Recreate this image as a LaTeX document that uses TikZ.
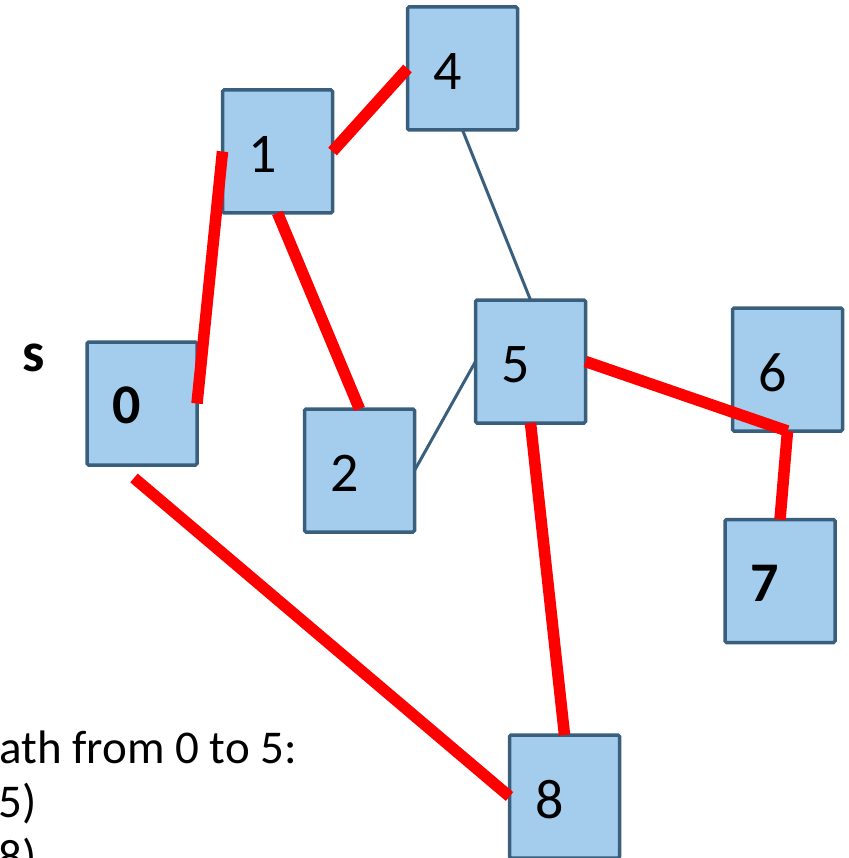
\documentclass[tikz,border=0pt]{standalone}
\usepackage{fontspec}
\setmainfont{Carlito}
\definecolor{boxfill}{RGB}{164,205,237}
\definecolor{boxline}{RGB}{58,95,125}
\definecolor{pathred}{RGB}{255,0,0}
\begin{document}
\begin{tikzpicture}[x=1pt,y=-1pt,
  vbox/.style={draw=boxline,fill=boxfill,line width=3.5pt,rounded corners=1.5pt,
    minimum width=110pt,minimum height=123pt,inner sep=0pt,outer sep=0pt},
  num/.style={label={[font=\fontsize{56}{60}\selectfont,xshift=-15pt,yshift=-3pt,inner sep=0pt]center:#1}},
  bnum/.style={label={[font=\fontsize{56}{60}\selectfont\bfseries,xshift=-15pt,yshift=-2pt,inner sep=0pt]center:#1}},
  redge/.style={draw=pathred,line width=11.5pt},
  tedge/.style={draw=boxline,line width=3pt},
  txt/.style={font=\fontsize{47}{53}\selectfont,inner sep=0pt,anchor=base west}]
\useasboundingbox (0,0) rectangle (848,858);
\clip (0,0) rectangle (848,858);
\node[vbox,bnum=0] (n0) at (142,403.5) {};
\node[vbox,num=1] (n1) at (277.5,151.5) {};
\node[vbox,num=2] (n2) at (359.5,470.5) {};
\node[vbox,num=4] (n4) at (462.5,68.5) {};
\node[vbox,num=5] (n5) at (530.5,361.5) {};
\node[vbox,num=6] (n6) at (787.5,369.5) {};
\node[vbox,bnum=7] (n7) at (780,581) {};
\node[vbox,num=8] (n8) at (564.5,796.5) {};
\coordinate (c0) at (134,478);
\node[font=\fontsize{56}{60}\selectfont\bfseries,inner sep=0pt] (s) at (34,358) {s};
% thin edges
\draw[tedge] (n4.south) -- (n5.north);
\draw[tedge] (n2.east) -- (n5.west);
% red path edges
\draw[redge] (n0.east) -- (n1.west);
\draw[redge] (n1.east) -- (n4.west);
\draw[redge] (n1.south) -- (n2.north);
\draw[redge] (n5.east) -- (n6.south);
\draw[redge] (n6.south) -- (n7.north);
\draw[redge] (n5.south) -- (n8.north);
\draw[redge] (c0) -- (n8.west);
% text
\node[txt] (t1) at (-1,763) {ath from 0 to 5:};
\node[txt] (t2) at (-2,817) {5)};
\node[txt] (t3) at (-2,872) {8)};
\end{tikzpicture}
\end{document}
